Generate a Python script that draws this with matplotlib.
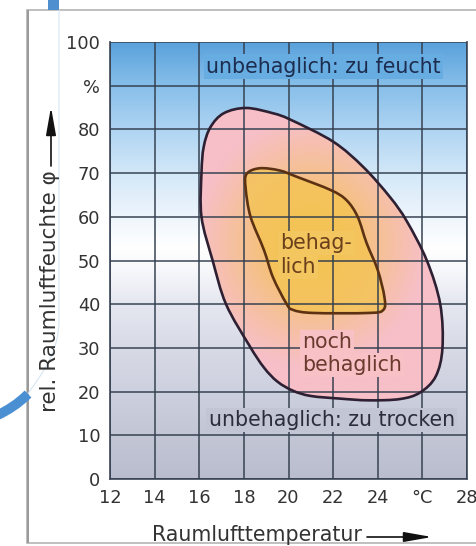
import numpy as np
import matplotlib
matplotlib.use("Agg")
import matplotlib.pyplot as plt
from matplotlib.path import Path
from matplotlib.patches import PathPatch, Rectangle, FancyArrowPatch
from matplotlib.colors import LinearSegmentedColormap, to_rgb
from matplotlib.transforms import IdentityTransform

plt.rcParams['font.family'] = ['DejaVu Sans']

# ---------------- data ----------------
x_ticks = [12, 14, 16, 18, 20, 22, 24, 26, 28]
x_tick_labels = ['12', '14', '16', '18', '20', '22', '24', '°C', '28']
y_ticks = [0, 10, 20, 30, 40, 50, 60, 70, 80, 90, 100]
y_tick_labels = ['0', '10', '20', '30', '40', '50', '60', '70', '80', '%', '100']

# "noch behaglich" boundary (temperature °C, rel. humidity %)
outer_t = [18.1, 19.3, 20.1, 22.0, 23.35, 24.55, 25.3, 26.2, 26.8, 26.9, 26.6, 25.9,
           25.0, 23.6, 22.3, 21.0, 20.2, 19.5, 18.9, 18.25, 17.2, 16.6, 16.1, 16.1,
           16.2, 16.5, 17.1]
outer_h = [84.9, 83.7, 82.2, 77.2, 71.4, 64.5, 59.0, 50.0, 40.0, 30.0, 23.5, 19.8,
           18.3, 18.0, 18.4, 19.0, 20.2, 22.3, 25.5, 30.5, 40.0, 50.0, 60.0, 70.0,
           76.0, 80.5, 83.7]

# "behaglich" boundary
inner_t = [18.7, 19.6, 20.4, 21.9, 22.6, 23.1, 23.5, 24.0, 24.3, 24.25, 23.6, 21.1, 20.2,
           19.9, 19.3, 18.9, 18.3, 18.08, 18.12]
inner_h = [71.1, 70.6, 69.1, 66.1, 63.8, 60.0, 54.0, 47.8, 41.6, 38.7, 38.0, 38.0, 38.7,
           40.2, 46.2, 52.4, 60.0, 66.5, 69.8]

# ---------------- helpers ----------------
def smooth_closed_path(xs, ys):
    pts = np.column_stack([xs, ys]).astype(float)
    n = len(pts)
    verts = [pts[0]]
    codes = [Path.MOVETO]
    for i in range(n):
        p0 = pts[i - 1]; p1 = pts[i]; p2 = pts[(i + 1) % n]; p3 = pts[(i + 2) % n]
        c1 = p1 + (p2 - p0) / 6.0
        c2 = p2 - (p3 - p1) / 6.0
        verts += [c1, c2, p2]
        codes += [Path.CURVE4] * 3
    verts.append(pts[0]); codes.append(Path.CLOSEPOLY)
    return Path(np.array(verts), codes)

W, H = 477, 546
fig = plt.figure(figsize=(W / 100, H / 100), dpi=100)
fig.patch.set_facecolor('white')

# ---- page decorations (pixel coordinates) ----
idt = IdentityTransform()
def py(y):
    return H - y
card = Rectangle((27, py(543)), 520, 533, transform=idt, facecolor='white',
                 edgecolor='#b4b4b4', lw=1.2, zorder=0)
fig.add_artist(card)
fig.add_artist(Rectangle((26.5, py(543)), 2, 533, transform=idt, facecolor='#9a9a9a',
                         edgecolor='none', zorder=0.5))
fig.add_artist(Rectangle((48, py(10)), 11, 11, transform=idt, facecolor='#4f8fd0',
                         edgecolor='none', zorder=1))
thin = Path([(59, py(10)), (59, py(320)), (59, py(350)), (45, py(370)), (27, py(395))],
            [Path.MOVETO, Path.LINETO, Path.CURVE4, Path.CURVE4, Path.CURVE4])
fig.add_artist(PathPatch(thin, transform=idt, facecolor='none', edgecolor='#d6e5f4',
                         lw=0.8, zorder=1))
thick = Path([(28, py(394)), (18, py(404)), (8, py(410)), (-2, py(415))],
             [Path.MOVETO, Path.CURVE4, Path.CURVE4, Path.CURVE4])
fig.add_artist(PathPatch(thick, transform=idt, facecolor='none', edgecolor='#4a8fd2',
                         lw=7, capstyle='butt', zorder=1))

# ---- axes ----
ax = fig.add_axes([110 / W, 1 - 479 / H, (467 - 110) / W, (479 - 42) / H])
ax.set_xlim(12, 28)
ax.set_ylim(0, 100)

# background gradient
bg_stops = [(0.00, '#b9bdcd'), (0.10, '#c3c6d5'), (0.20, '#cdd0de'), (0.30, '#d8dae6'),
            (0.40, '#e5e7f0'), (0.48, '#f7f8fb'), (0.53, '#ffffff'), (0.60, '#eef5fc'),
            (0.70, '#d3e8f8'), (0.80, '#afd4f2'), (0.90, '#88bfea'), (1.00, '#5aa2dc')]
bg_cmap = LinearSegmentedColormap.from_list('bg', bg_stops)
grad = np.linspace(0, 1, 256).reshape(-1, 1)
ax.imshow(grad, extent=[12, 28, 0, 100], origin='lower', aspect='auto', cmap=bg_cmap,
          zorder=0)

# outer zone fill (pink with orange glow)
outer_path = smooth_closed_path(outer_t, outer_h)
inner_path = smooth_closed_path(inner_t, inner_h)
gx = np.linspace(12, 28, 400)
gy = np.linspace(0, 100, 500)
GX, GY = np.meshgrid(gx, gy)
r = np.sqrt(((GX - 21.0) / 4.0) ** 2 + ((GY - 54) / 22.0) ** 2)
t = np.clip((r - 0.3) / 1.0, 0, 1) ** 0.8
orange = np.array(to_rgb('#f4c257'))
pink = np.array(to_rgb('#f7bfc8'))
img = orange[None, None, :] * (1 - t[..., None]) + pink[None, None, :] * t[..., None]
im = ax.imshow(img, extent=[12, 28, 0, 100], origin='lower', aspect='auto', zorder=1)
clip_outer = PathPatch(outer_path, transform=ax.transData, facecolor='none', edgecolor='none')
ax.add_patch(clip_outer)
im.set_clip_path(clip_outer)

ax.add_patch(PathPatch(inner_path, facecolor='#f4c455', edgecolor='none', alpha=0.8,
                       zorder=2))

# grid
for xv in x_ticks:
    ax.axvline(xv, color='#34404f', lw=1.2, alpha=0.9, zorder=3)
for yv in y_ticks:
    ax.axhline(yv, color='#34404f', lw=1.2, alpha=0.9, zorder=3)

# contours
ax.add_patch(PathPatch(outer_path, facecolor='none', edgecolor='#2e2033', lw=1.9, zorder=5))
ax.add_patch(PathPatch(inner_path, facecolor='none', edgecolor='#5c3212', lw=1.9, zorder=5))

# zone labels
fs = 14.8
ax.text(21.57, 94.3, 'unbehaglich: zu feucht', ha='center', va='center', fontsize=fs,
        color='#1d2d4f', zorder=4,
        bbox=dict(boxstyle='square,pad=0.12', fc='#68ade1', ec='none'))
ax.text(21.94, 13.5, 'unbehaglich: zu trocken', ha='center', va='center', fontsize=fs,
        color='#2b2d3c', zorder=4,
        bbox=dict(boxstyle='square,pad=0.12', fc='#c2c5d4', ec='none'))
ax.text(19.62, 54.0, 'behag-', ha='left', va='center', fontsize=fs, color='#6a3f1c', zorder=4,
        bbox=dict(boxstyle='square,pad=0.1', fc='#f4c660', ec='none'))
ax.text(19.62, 48.5, 'lich', ha='left', va='center', fontsize=fs, color='#6a3f1c', zorder=4,
        bbox=dict(boxstyle='square,pad=0.1', fc='#f4c660', ec='none'))
ax.text(20.6, 31.3, 'noch', ha='left', va='center', fontsize=fs, color='#6b3a2e', zorder=4,
        bbox=dict(boxstyle='square,pad=0.1', fc='#f7c1c6', ec='none'))
ax.text(20.6, 26.0, 'behaglich', ha='left', va='center', fontsize=fs, color='#6b3a2e', zorder=4,
        bbox=dict(boxstyle='square,pad=0.1', fc='#f7c1c6', ec='none'))

# ticks
ax.set_xticks(x_ticks)
ax.set_xticklabels(x_tick_labels)
ax.set_yticks(y_ticks)
ax.set_yticklabels(y_tick_labels)
ax.tick_params(length=0, labelsize=12.8, colors='#333333', pad=7)
for side in ['left', 'right', 'bottom']:
    ax.spines[side].set_color('#4a5566')
    ax.spines[side].set_linewidth(1.3)
ax.spines['top'].set_visible(False)
ax.set_zorder(2)

# axis titles with arrows (pixel positions)
fig.text(50 / W, 1 - 412 / H, 'rel. Raumluftfeuchte φ', rotation=90, ha='center', va='bottom',
         fontsize=15.5, color='#333333')
fig.add_artist(FancyArrowPatch((51, py(166)), (51, py(107)), transform=idt,
               arrowstyle='-|>,head_length=17,head_width=3', color='#111111', lw=1.2,
               mutation_scale=1, shrinkA=0, shrinkB=0))
fig.text(152 / W, 1 - 535 / H, 'Raumlufttemperatur', ha='left', va='center', fontsize=14.8,
         color='#333333')
fig.add_artist(FancyArrowPatch((367, py(537)), (432, py(537)), transform=idt,
               arrowstyle='-|>,head_length=17,head_width=3', color='#111111', lw=1.2,
               mutation_scale=1, shrinkA=0, shrinkB=0))

fig.savefig('out.png', dpi=100)
